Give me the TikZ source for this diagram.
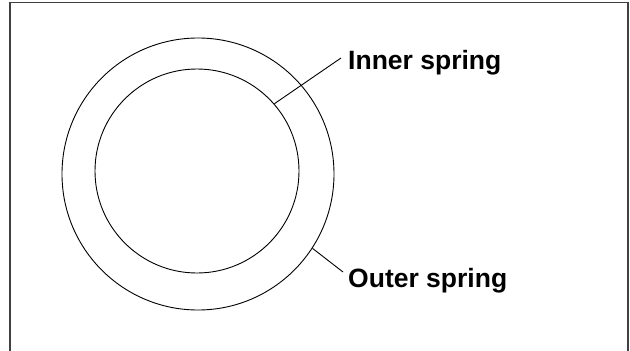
\documentclass[tikz,border=0pt]{standalone}
\usepackage{fontspec}
\setmainfont{Liberation Sans}
\usetikzlibrary{calc}
\tikzset{
	spring/.style={circle, draw, line width=0.9pt, inner sep=0pt},
	leader/.style={line width=0.9pt},
	springlabel/.style={anchor=base west, inner sep=0pt, font=\fontsize{26.5}{30}\selectfont\bfseries}
}

\begin{document}
\begin{tikzpicture}[x=1pt, y=-1pt]
	%%%%% START %%%%%
	
	\useasboundingbox (0, 0) rectangle (630, 351);
	\draw[line width=1.3pt, color=black!75] (10, 352) -- (10, 2.5) -- (628, 2.5) -- (628, 352);
	
	\node[spring, minimum size=272pt] (outer) at (198, 174) {};
	\node[spring, minimum size=204pt] (inner) at (197, 171) {};
	
	\node[springlabel] (innerlabel) at (348, 69) {Inner spring};
	\node[springlabel] (outerlabel) at (348, 287) {Outer spring};
	
	\coordinate (innerend) at (341, 58);
	\coordinate (outerend) at (343, 272);
	
	\draw[leader] (inner.41.5) -- (innerend);
	\draw[leader] (outer.-33.7) -- (outerend);
	
	%%%%% END %%%%%
\end{tikzpicture}
\end{document}
